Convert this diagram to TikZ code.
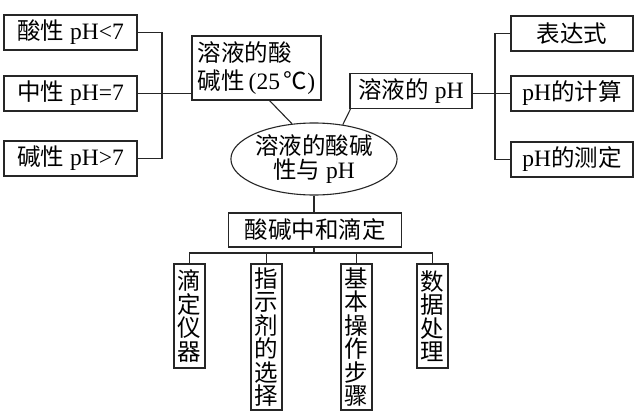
\documentclass[tikz,border=0pt]{standalone}
\usepackage{fontspec}
\setmainfont{Liberation Serif}
\newfontfamily\cjk{Noto Sans CJK SC}
\usetikzlibrary{shapes.geometric}
\newcommand\zh[1]{{\cjk #1}}
\begin{document}
\begin{tikzpicture}[x=1pt,y=-1pt,
  txt/.style={font=\fontsize{23.5}{28}\selectfont},
  hbox/.style={txt,draw=black!85,line width=1.1pt,minimum height=35pt,inner sep=0pt,anchor=center},
  vbox/.style={draw=black!85,line width=1.1pt,inner sep=0pt,minimum width=31pt,align=center,
    font=\cjk\fontsize{23.5}{23.5}\selectfont},
  link/.style={draw=black!85,line width=1.1pt}]
\useasboundingbox (0,0) rectangle (638,415);
\fill[white] (0,0) rectangle (638,415);
% left group
\node[hbox,minimum width=133pt] (a1) at (70.5,32.5) {\zh{酸性} pH<7};
\node[hbox,minimum width=133pt] (a2) at (70.5,93.5) {\zh{中性} pH=7};
\node[hbox,minimum width=133pt] (a3) at (70.5,158.5) {\zh{碱性} pH>7};
\node[txt,draw=black!85,line width=1.1pt,minimum width=129pt,minimum height=64pt,inner sep=0pt,
  align=left] (b) at (256.5,68) {\zh{溶液的酸}\\\zh{碱性}\,(25\,\zh{℃})};
% right group
\node[hbox,minimum width=122pt] (c) at (411,91) {\zh{溶液的} pH};
\node[hbox,minimum width=122pt] (d1) at (572,33.5) {\zh{表达式}};
\node[hbox,minimum width=122pt] (d2) at (572,93.5) {pH\zh{的计算}};
\node[hbox,minimum width=122pt] (d3) at (572,159.5) {pH\zh{的测定}};
% centre
\node[ellipse,draw=black!85,line width=1.1pt,minimum width=157pt,minimum height=72pt,inner sep=0pt,
  align=center,font=\fontsize{23.5}{24}\selectfont] (e) at (314,159) {\zh{溶液的酸碱}\\\zh{性与} pH};
\node[hbox,minimum width=173pt,minimum height=34pt] (f) at (315,230) {\zh{酸碱中和滴定}};
% bottom
\node[vbox,minimum height=104pt] (g1) at (189.5,316) {滴\\定\\仪\\器};
\node[vbox,minimum height=146pt] (g2) at (266.5,337) {指\\示\\剂\\的\\选\\择};
\node[vbox,minimum height=146pt] (g3) at (356.5,337) {基\\本\\操\\作\\步\\骤};
\node[vbox,minimum height=104pt] (g4) at (432.5,316) {数\\据\\处\\理};
% connectors
\coordinate (lb) at (162,93.5);
\draw[link] (a1.east) -| (lb) |- (a3.east);
\draw[link] (a2.east) -- (a2.east -| b.west);
\coordinate (rb) at (495,93.5);
\draw[link] (d1.west) -| (rb) |- (d3.west);
\draw[link] (c.east |- d2.west) -- (d2.west);
\draw[link] ([xshift=13pt]b.south) -- (e.122);
\draw[link] ([xshift=1pt]c.south west) -- (e.50);
\draw[link] (e.south) -- (e.south |- f.north);
\coordinate (bus) at (314,253);
\draw[link] (f.south -| bus) -- (bus);
\draw[link] (g1.north) |- (bus) -| (g4.north);
\draw[link] (g2.north) -- (g2.north |- bus);
\draw[link] (g3.north) -- (g3.north |- bus);
\end{tikzpicture}
\end{document}
